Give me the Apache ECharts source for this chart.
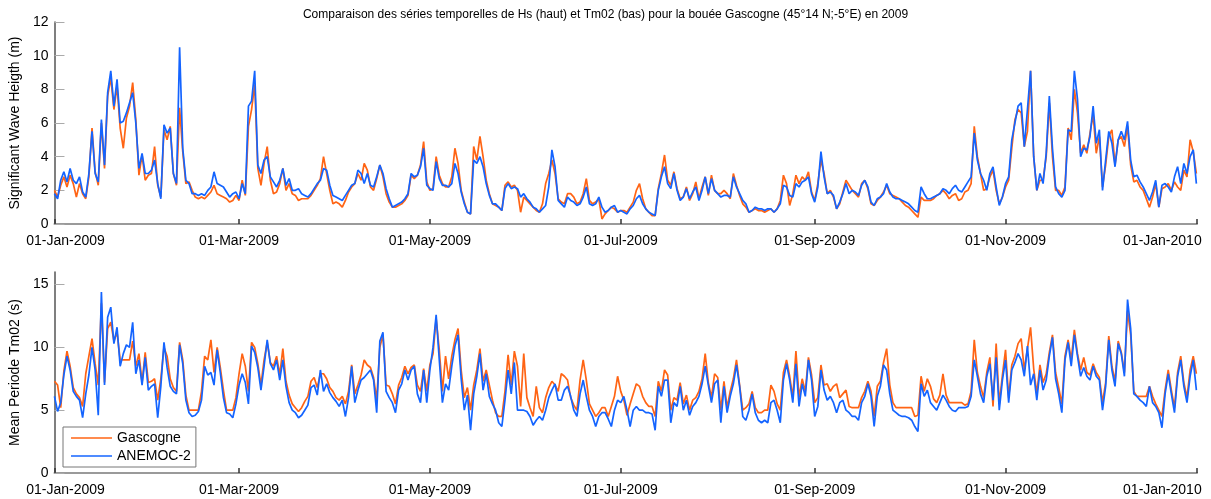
<!DOCTYPE html>
<html>
<head>
<meta charset="utf-8">
<script src="https://cdn.jsdelivr.net/npm/echarts@6/dist/echarts.min.js"></script>
<style>
  html, body { margin: 0; padding: 0; background: #fff; }
  #chart { width: 1211px; height: 499px; }
</style>
</head>
<body>
<div id="chart"></div>
<script>
// Daily values for 2009, index = day of year (0 = 01-Jan-2009, 365 = 01-Jan-2010)

// Significant wave height Hs (m), ANEMOC-2 hindcast
const hsAnemoc = [
  1.8, 1.5, 2.6, 3.1, 2.5, 3.3, 2.6, 2.4, 2.8, 1.9,
  1.6, 3.0, 5.5, 3.0, 2.5, 6.2, 3.5, 7.8, 9.1, 7.0,
  8.6, 6.0, 6.1, 6.6, 7.2, 7.8, 6.0, 3.3, 4.2, 3.0,
  3.0, 3.2, 3.8, 2.4, 1.5, 5.9, 5.4, 5.7, 3.0, 2.4,
  10.5, 4.5, 2.6, 2.4, 1.8, 1.8, 1.7, 1.8, 1.7, 2.0,
  2.2, 3.1, 2.4, 2.3, 2.2, 1.9, 1.6, 1.8, 1.9, 1.5,
  2.4, 1.8, 7.0, 7.3, 9.1, 3.5, 3.0, 3.8, 4.0, 2.8,
  2.5, 2.2, 2.6, 3.3, 2.3, 2.7, 2.0, 2.0, 2.1, 1.8,
  1.7, 1.6, 1.8, 2.1, 2.4, 2.6, 3.3, 3.2, 2.3, 1.7,
  1.6, 1.5, 1.4, 1.7, 2.0, 2.3, 2.4, 3.2, 3.0, 2.4,
  3.0, 2.3, 2.2, 2.8, 3.5, 3.0, 2.1, 1.5, 1.0, 1.1,
  1.2, 1.3, 1.5, 1.8, 3.0, 2.8, 2.9, 3.4, 4.5, 2.3,
  2.1, 2.0, 3.7, 2.7, 2.3, 2.3, 2.2, 2.4, 3.6, 3.0,
  1.9, 1.2, 0.7, 0.6, 3.8, 3.6, 4.0, 3.4, 2.4, 1.7,
  1.2, 1.2, 1.0, 0.8, 2.1, 2.4, 2.1, 2.2, 2.1, 1.6,
  1.8, 1.5, 1.3, 1.0, 0.9, 0.7, 0.9, 1.1, 2.2, 4.4,
  3.4, 1.4, 1.2, 1.0, 1.6, 1.4, 1.3, 1.1, 1.2, 1.6,
  2.2, 1.2, 1.1, 1.2, 1.6, 1.0, 0.7, 0.8, 1.0, 1.1,
  0.7, 0.8, 0.7, 0.6, 0.9, 1.1, 1.5, 1.7, 1.2, 0.9,
  0.7, 0.6, 0.5, 2.0, 2.8, 3.4, 2.4, 2.1, 3.0, 2.0,
  1.4, 1.6, 2.1, 1.5, 1.9, 2.2, 1.4, 2.0, 2.8, 1.8,
  2.7, 2.0, 1.8, 1.6, 1.7, 1.7, 1.6, 2.8, 2.2, 1.8,
  1.4, 1.2, 0.7, 0.8, 1.0, 0.9, 0.9, 0.8, 0.9, 0.9,
  0.7, 0.9, 1.2, 2.3, 2.2, 1.7, 1.6, 2.4, 2.2, 2.5,
  2.6, 2.8, 1.8, 1.3, 2.2, 4.3, 2.8, 1.8, 1.9, 1.7,
  0.9, 1.3, 1.8, 2.4, 1.8, 2.0, 1.9, 1.7, 2.3, 2.6,
  2.2, 1.3, 1.1, 1.5, 1.6, 1.8, 2.4, 1.9, 1.6, 1.5,
  1.5, 1.4, 1.3, 1.2, 1.0, 0.8, 0.7, 2.2, 1.8, 1.5,
  1.5, 1.6, 1.7, 1.8, 2.1, 2.0, 1.8, 2.1, 2.3, 2.0,
  1.9, 2.2, 2.5, 2.8, 5.4, 3.8, 3.0, 2.6, 2.0, 3.0,
  3.4, 2.2, 1.1, 1.6, 2.4, 2.8, 5.0, 6.0, 7.0, 7.2,
  4.6, 6.8, 9.1, 4.0, 2.0, 3.0, 2.4, 4.2, 7.6, 4.5,
  2.2, 1.8, 1.6, 2.0, 5.6, 5.5, 9.1, 7.4, 4.0, 4.5,
  4.4, 5.2, 7.0, 4.8, 5.6, 2.0, 3.8, 5.5, 4.8, 3.4,
  5.0, 5.5, 5.0, 6.1, 3.8, 2.8, 2.9, 2.5, 2.2, 1.8,
  1.4, 1.9, 2.6, 1.0, 2.3, 2.4, 2.2, 1.9, 2.8, 3.4,
  2.4, 3.6, 3.0, 4.0, 4.4, 2.4
];

// Significant wave height Hs (m), Gascogne buoy
const hsGascogne = [
  2.0, 1.6, 2.3, 2.8, 2.2, 2.9, 2.4, 1.6, 2.4, 1.8,
  1.5, 2.8, 5.7, 3.1, 2.3, 6.0, 3.3, 7.6, 8.7, 6.8,
  8.2, 5.7, 4.5, 6.3, 7.0, 8.4, 6.2, 2.9, 4.1, 2.6,
  2.9, 3.0, 4.6, 2.3, 1.6, 5.6, 5.0, 5.8, 3.0, 2.3,
  6.9, 4.3, 2.4, 2.5, 2.0, 1.6, 1.5, 1.6, 1.5, 1.7,
  1.9, 2.3, 1.8, 1.7, 1.6, 1.5, 1.3, 1.4, 1.7, 1.4,
  2.6, 1.7, 5.8, 6.8, 8.3, 3.3, 2.3, 3.6, 4.6, 2.6,
  1.8, 1.9, 2.4, 3.3, 2.0, 2.4, 1.8, 1.7, 1.4, 1.5,
  1.5, 1.5, 1.7, 2.0, 2.3, 2.7, 4.0, 3.0, 2.0, 1.2,
  1.3, 1.2, 1.0, 1.4, 1.9, 2.2, 2.4, 3.0, 2.6, 3.6,
  3.2, 2.2, 2.0, 2.7, 3.5, 2.8, 1.8, 1.3, 1.0, 1.0,
  1.1, 1.2, 1.4, 1.7, 2.9, 2.7, 2.9, 3.5, 4.9, 2.5,
  2.0, 2.1, 4.0, 2.9, 2.4, 2.2, 2.2, 2.8, 4.5, 3.6,
  2.0, 1.3, 0.7, 0.6, 4.6, 3.8, 5.2, 4.0, 2.6, 1.8,
  1.2, 1.1, 1.0, 0.8, 2.3, 2.5, 2.2, 2.3, 2.0, 0.7,
  1.6, 1.4, 1.2, 1.0, 0.8, 0.7, 1.2, 2.4, 3.0, 3.8,
  3.0, 1.5, 1.3, 1.2, 1.8, 1.8, 1.6, 1.2, 1.3, 1.8,
  2.7, 1.4, 1.2, 1.3, 1.5, 0.3, 0.6, 0.8, 1.0, 0.9,
  0.7, 0.8, 0.8, 0.7, 1.0, 1.3, 2.0, 2.4, 1.5, 0.9,
  0.7, 0.5, 0.5, 2.1, 3.0, 4.1, 2.6, 2.3, 3.1, 2.1,
  1.5, 1.6, 2.2, 1.4, 1.8, 2.5, 1.5, 2.2, 2.8, 1.7,
  2.9, 2.0, 1.8, 1.8, 2.0, 1.8, 1.5, 3.0, 2.3, 1.7,
  1.2, 1.0, 0.7, 0.8, 0.9, 0.8, 0.8, 0.7, 0.8, 0.9,
  0.7, 0.9, 1.4, 2.9, 2.4, 1.1, 1.8, 2.9, 2.4, 2.8,
  2.6, 3.1, 1.9, 1.4, 2.4, 3.8, 3.0, 1.8, 2.0, 1.6,
  0.9, 1.2, 1.9, 2.6, 2.3, 2.0, 1.8, 1.6, 2.4, 2.6,
  2.1, 1.2, 1.1, 1.4, 1.6, 1.9, 2.3, 1.8, 1.7, 1.6,
  1.5, 1.3, 1.1, 1.0, 0.8, 0.6, 0.4, 1.6, 1.4, 1.4,
  1.4, 1.5, 1.7, 1.8, 2.0, 1.8, 1.5, 1.7, 1.8, 1.4,
  1.5, 1.9, 2.0, 2.4, 5.8, 4.0, 3.0, 2.0, 2.1, 2.8,
  3.2, 2.0, 1.2, 1.6, 2.2, 2.6, 4.5, 6.2, 6.8, 6.6,
  4.6, 5.5, 9.1, 4.0, 2.0, 2.6, 2.6, 4.0, 7.2, 4.0,
  2.0, 2.0, 1.7, 2.2, 5.7, 5.0, 8.0, 6.6, 4.2, 4.7,
  4.2, 5.4, 6.5, 4.2, 5.2, 2.2, 3.5, 5.2, 5.6, 3.5,
  5.0, 5.2, 4.6, 5.8, 3.5, 2.5, 2.6, 2.2, 2.0, 1.5,
  1.0, 1.6, 2.4, 1.0, 2.1, 2.2, 2.4, 2.0, 2.5, 2.2,
  2.0, 3.2, 2.8, 5.0, 4.3, 3.0
];

// Mean period Tm02 (s), ANEMOC-2 hindcast
const tmAnemoc = [
  6.1, 4.9, 5.6, 7.8, 9.3, 8.2, 6.5, 6.1, 5.8, 4.4,
  6.3, 7.8, 10.0, 8.2, 4.6, 14.4, 7.0, 12.4, 13.2, 10.3,
  11.6, 8.5, 9.5, 10.2, 10.0, 12.0, 7.9, 9.0, 7.0, 9.2,
  6.6, 6.9, 7.1, 4.4, 6.9, 10.4, 8.4, 6.9, 6.5, 6.3,
  10.2, 8.7, 5.8, 4.8, 4.5, 4.6, 4.9, 5.8, 8.5, 7.8,
  8.0, 7.0, 9.8, 8.0, 6.0, 4.8, 4.7, 4.4, 5.5, 7.0,
  7.9, 7.2, 5.5, 10.1, 9.6, 8.4, 6.6, 8.5, 10.6, 8.7,
  8.2, 9.0, 7.4, 9.0, 6.9, 5.6, 5.0, 4.8, 4.4, 4.6,
  5.0, 5.4, 6.8, 7.0, 6.2, 8.2, 6.5, 7.1, 6.4, 6.0,
  5.7, 5.3, 5.8, 4.5, 6.0, 8.5, 5.6, 6.6, 7.4, 7.6,
  7.9, 8.2, 7.4, 4.8, 10.5, 11.2, 6.5, 6.0, 5.6, 4.8,
  6.6, 7.1, 8.2, 7.4, 8.2, 8.5, 6.3, 5.6, 8.2, 5.6,
  8.2, 10.0, 12.6, 9.0, 5.6, 7.1, 6.6, 8.5, 10.1, 11.0,
  7.5, 5.0, 6.2, 3.4, 6.3, 7.7, 9.5, 6.6, 7.9, 6.1,
  5.5, 5.0, 4.0, 3.7, 5.8, 8.2, 6.3, 8.8, 5.0, 5.0,
  5.0, 4.9, 4.5, 3.8, 4.2, 4.5, 4.2, 5.0, 6.0, 6.6,
  7.1, 5.8, 5.8, 6.6, 6.9, 6.1, 5.0, 4.5, 6.3, 7.4,
  6.1, 5.0, 4.5, 3.7, 4.5, 4.8, 4.8, 4.3, 3.7, 5.0,
  5.8, 5.6, 6.1, 5.0, 3.7, 5.0, 5.3, 5.0, 5.0, 4.8,
  4.8, 4.7, 3.4, 6.9, 6.1, 7.4, 7.4, 4.0, 5.6, 5.3,
  6.9, 5.0, 5.8, 4.6, 5.3, 5.6, 6.1, 7.1, 8.5, 7.0,
  5.6, 7.1, 7.4, 4.0, 6.9, 4.8, 6.1, 7.1, 8.6, 6.9,
  4.5, 4.2, 5.0, 6.3, 4.8, 4.2, 4.0, 4.2, 4.0, 5.6,
  5.8, 5.0, 4.0, 7.4, 8.7, 7.4, 5.6, 8.7, 5.3, 7.1,
  6.1, 9.0, 7.4, 4.5, 5.3, 8.2, 6.6, 5.8, 6.1, 5.6,
  4.8, 5.6, 5.8, 5.0, 4.8, 4.5, 4.5, 4.2, 5.6, 6.1,
  7.1, 6.1, 3.7, 6.1, 6.9, 8.6, 8.2, 6.3, 5.0, 4.8,
  4.6, 4.5, 4.5, 4.4, 4.2, 3.7, 3.3, 7.1, 6.1, 6.6,
  5.6, 5.3, 5.0, 5.6, 6.2, 5.8, 5.3, 5.0, 4.9, 5.2,
  5.2, 5.2, 5.3, 6.1, 9.0, 7.7, 6.3, 5.6, 7.7, 8.7,
  5.8, 9.2, 5.0, 7.4, 9.0, 5.6, 8.2, 8.8, 9.5, 9.0,
  7.7, 10.1, 7.0, 7.9, 5.8, 8.2, 6.6, 7.4, 9.3, 10.8,
  7.5, 6.3, 4.8, 9.0, 10.4, 8.5, 11.0, 9.3, 7.7, 8.4,
  7.7, 7.4, 8.5, 7.7, 7.4, 5.0, 6.9, 10.6, 8.2, 6.9,
  10.3, 9.5, 7.7, 13.8, 11.5, 6.3, 6.1, 5.8, 5.6, 5.3,
  6.9, 5.6, 5.3, 4.8, 3.6, 6.3, 7.9, 6.3, 4.8, 7.7,
  9.0, 6.9, 5.6, 7.7, 9.0, 6.6
];

// Mean period Tm02 (s), Gascogne buoy
const tmGascogne = [
  7.3, 7.0, 5.2, 8.1, 9.7, 8.5, 6.8, 6.3, 6.0, 5.3,
  7.9, 9.3, 10.7, 8.7, 7.0, 13.5, 7.2, 11.5, 12.0, 10.5,
  11.2, 9.0, 9.0, 9.0, 9.0, 10.5, 8.5, 9.5, 7.2, 9.6,
  7.2, 7.3, 7.5, 5.8, 7.5, 10.0, 9.3, 7.5, 6.8, 6.5,
  10.4, 9.0, 6.2, 5.0, 5.0, 5.0, 5.0, 6.5, 9.3, 9.0,
  10.6, 8.0, 10.0, 8.4, 6.6, 5.0, 5.0, 5.0, 6.0, 7.9,
  9.5, 8.5, 6.5, 10.4, 10.0, 8.7, 7.0, 9.0, 10.4, 8.8,
  8.5, 9.3, 7.8, 9.9, 7.3, 6.2, 5.5, 5.2, 4.9, 5.2,
  5.7, 6.1, 7.3, 7.6, 6.8, 7.9, 7.9, 7.5, 6.8, 6.5,
  6.0, 5.8, 6.1, 5.5, 6.5, 8.6, 6.3, 7.0, 7.8, 9.0,
  8.6, 8.4, 7.6, 5.8, 10.0, 11.0, 7.0, 6.9, 6.3, 5.5,
  7.0, 7.6, 8.5, 7.9, 8.4, 8.6, 7.0, 6.5, 8.3, 6.5,
  8.6, 9.5, 12.3, 9.8, 6.5, 9.3, 7.5, 9.3, 10.6, 11.5,
  8.2, 6.0, 6.8, 5.0, 7.0, 8.2, 9.9, 7.3, 8.2, 7.0,
  5.8, 4.8, 4.5, 4.5, 6.5, 9.4, 7.0, 9.7, 8.5, 5.3,
  9.5, 6.0, 5.2, 4.5, 6.9, 5.2, 4.8, 6.0, 6.8, 7.3,
  7.0, 6.5, 7.9, 7.7, 7.4, 6.0, 5.4, 5.0, 7.4, 9.0,
  7.4, 5.5, 5.0, 4.5, 4.8, 5.2, 5.2, 4.5, 5.3, 6.1,
  7.7, 6.5, 5.8, 4.6, 5.5, 6.3, 7.1, 6.9, 6.1, 5.6,
  5.3, 5.3, 4.5, 7.3, 6.5, 8.2, 7.8, 5.0, 6.0, 5.8,
  7.2, 5.5, 6.2, 5.0, 5.8, 6.0, 6.5, 7.5, 9.5, 7.2,
  6.0, 7.9, 7.6, 5.0, 7.3, 5.2, 6.5, 7.5, 9.0, 7.0,
  5.0, 5.2, 5.5, 6.5, 5.2, 4.8, 4.8, 5.0, 5.0, 7.0,
  6.5, 5.5, 5.0, 8.0, 9.0, 7.7, 6.0, 9.7, 6.0, 7.5,
  6.5, 9.2, 7.8, 5.6, 6.0, 8.6, 7.0, 7.1, 6.5, 6.9,
  7.1, 6.0, 6.3, 6.6, 5.3, 5.2, 5.2, 5.2, 6.0, 6.5,
  7.3, 6.5, 4.5, 6.9, 7.3, 8.8, 9.9, 7.0, 5.6, 5.2,
  5.2, 5.2, 5.2, 5.2, 5.2, 4.5, 4.6, 7.7, 6.5, 7.5,
  6.9, 5.9, 5.6, 6.2, 7.9, 6.2, 5.6, 5.6, 5.6, 5.6,
  5.6, 5.4, 5.5, 6.5, 10.6, 8.0, 6.9, 6.0, 8.0, 9.2,
  5.3, 10.3, 5.5, 7.8, 9.8, 6.0, 8.6, 9.3, 10.3, 10.7,
  8.2, 9.9, 11.6, 8.3, 6.3, 8.6, 7.2, 7.9, 9.6, 11.0,
  8.0, 6.8, 5.5, 9.3, 10.6, 9.0, 11.4, 9.5, 8.2, 9.2,
  8.0, 7.8, 8.7, 8.0, 7.6, 5.6, 7.2, 10.9, 8.5, 7.3,
  10.5, 9.6, 8.0, 12.9, 11.0, 6.5, 6.1, 6.1, 6.1, 6.1,
  6.9, 6.1, 5.5, 5.0, 4.5, 6.6, 8.2, 6.6, 5.2, 8.0,
  9.3, 7.2, 6.0, 8.2, 9.3, 7.9
];

// Date ticks (day of year) and their labels
const tickDays = [0, 59, 120, 181, 243, 304, 365];
const tickLabels = ['01-Jan-2009', '01-Mar-2009', '01-May-2009', '01-Jul-2009',
                    '01-Sep-2009', '01-Nov-2009', '01-Jan-2010'];
const hsTicks = [0, 2, 4, 6, 8, 10, 12];
const tmTicks = [0, 5, 10, 15];

const FONT = '"Liberation Sans", Arial, Helvetica, sans-serif';
const ORANGE = '#ff6414';
const BLUE = '#1464ff';

const toPairs = arr => arr.map((v, i) => [i, v]);

function dateAxis(gridIndex) {
  return {
    type: 'value',
    gridIndex,
    min: 0,
    max: 365.2,
    axisLine: { show: true, onZero: false, lineStyle: { color: '#9a9a9a', width: 2 } },
    axisTick: {
      show: true, inside: true, length: 5, customValues: tickDays,
      lineStyle: { color: '#333', width: 1.5 }
    },
    axisLabel: {
      customValues: tickDays,
      margin: 10,
      color: '#000',
      fontFamily: FONT,
      fontSize: 14,
      formatter: v => {
        const i = tickDays.indexOf(Math.round(v));
        const txt = i >= 0 ? tickLabels[i] : '';
        if (i === 0) return '{first|' + txt + '}';
        if (i === tickDays.length - 1) return '{last|' + txt + '}';
        return txt;
      },
      rich: {
        first: { fontFamily: FONT, fontSize: 14, color: '#000', padding: [0, 0, 0, 22] },
        last: { fontFamily: FONT, fontSize: 14, color: '#000', padding: [0, 68, 0, 0] }
      }
    },
    splitLine: { show: false }
  };
}

function valueAxis(gridIndex, max, ticks, name) {
  return {
    type: 'value',
    gridIndex,
    min: 0,
    max,
    name,
    nameLocation: 'middle',
    nameGap: 24,
    nameTextStyle: { fontFamily: FONT, fontSize: 14, color: '#000' },
    axisLine: { show: true, lineStyle: { color: '#555', width: 1.5 } },
    axisTick: {
      show: true, inside: true, length: 10, customValues: ticks,
      lineStyle: { color: '#aaa', width: 1 }
    },
    axisLabel: {
      customValues: ticks,
      margin: 6,
      color: '#000',
      fontFamily: FONT,
      fontSize: 14
    },
    splitLine: { show: false }
  };
}

function lineSeries(name, data, color, xi, yi, z) {
  return {
    name,
    type: 'line',
    xAxisIndex: xi,
    yAxisIndex: yi,
    data: toPairs(data),
    showSymbol: false,
    symbol: 'none',
    animation: false,
    z,
    lineStyle: { color, width: 1.7 },
    itemStyle: { color }
  };
}

const chart = echarts.init(document.getElementById('chart'), null, { renderer: 'canvas' });

chart.setOption({
  backgroundColor: '#fff',
  animation: false,
  title: {
    text: 'Comparaison des séries temporelles de Hs (haut) et Tm02 (bas) pour la bouée Gascogne (45°14 N;-5°E) en 2009',
    left: 'center',
    top: 4,
    textStyle: { fontFamily: FONT, fontSize: 12, fontWeight: 'normal', color: '#000' }
  },
  legend: {
    data: ['Gascogne', 'ANEMOC-2'],
    orient: 'vertical',
    left: 63,
    top: 427,
    padding: [4, 5, 4, 8],
    itemGap: 4,
    itemWidth: 41,
    itemHeight: 1.5,
    icon: 'rect',
    backgroundColor: '#fff',
    borderColor: '#777',
    borderWidth: 1,
    textStyle: { fontFamily: FONT, fontSize: 14, color: '#000' }
  },
  grid: [
    { left: 51, right: 14, top: 22, height: 202 },
    { left: 51, right: 14, top: 272, height: 201 }
  ],
  xAxis: [dateAxis(0), dateAxis(1)],
  yAxis: [
    valueAxis(0, 12, hsTicks, 'Significant Wave Heigth (m)'),
    valueAxis(1, 16, tmTicks, 'Mean Periode Tm02 (s)')
  ],
  series: [
    lineSeries('Gascogne', hsGascogne, ORANGE, 0, 0, 2),
    lineSeries('ANEMOC-2', hsAnemoc, BLUE, 0, 0, 3),
    lineSeries('Gascogne', tmGascogne, ORANGE, 1, 1, 2),
    lineSeries('ANEMOC-2', tmAnemoc, BLUE, 1, 1, 3)
  ]
});
</script>
</body>
</html>
